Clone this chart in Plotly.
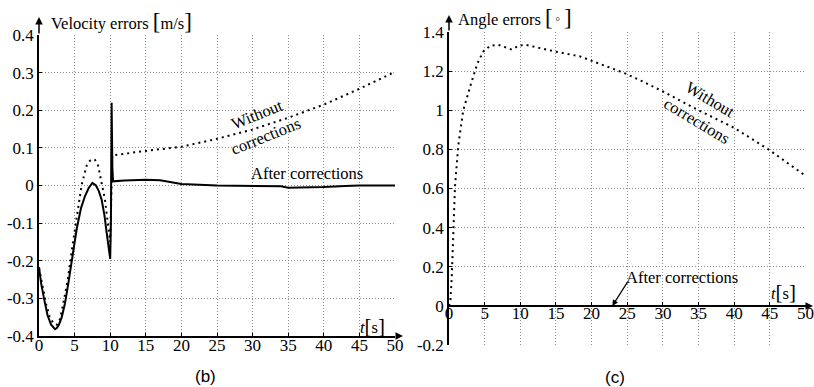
import plotly.graph_objects as go

# ---------------- data: panel (b) velocity errors ----------------
t_vel_after = [0, 0.3, 0.7, 1.2, 1.7, 2.0, 2.25, 2.5, 2.8, 3.2, 3.65, 4.1, 4.6, 5.3, 5.9, 6.46,
               7.0, 7.5, 8.0, 8.4, 8.8, 9.2, 9.5, 9.75, 10.0, 10.1, 10.2, 10.3, 10.4, 12, 15,
               17, 20, 25, 30, 34, 35, 38, 40, 43, 45, 50]
v_after = [-0.217, -0.26, -0.30, -0.345, -0.370, -0.378, -0.382, -0.379, -0.37, -0.35, -0.313,
           -0.262, -0.20, -0.115, -0.06, -0.028, -0.006, 0.007, 0.0, -0.015, -0.038, -0.08,
           -0.125, -0.16, -0.195, -0.10, 0.22, 0.05, 0.011, 0.013, 0.015, 0.014, 0.004, 0.0,
           -0.001, -0.002, -0.006, -0.006, -0.004, -0.001, 0.0, 0.0]

t_vel_without = [0, 0.5, 1.0, 1.5, 2.0, 2.5, 2.95, 3.55, 4.1, 4.6, 5.05, 5.5, 6.0, 6.7, 7.16,
                 7.5, 7.86, 8.3, 8.8, 9.27, 9.6, 10.0, 10.3, 12, 15, 20, 25, 30, 35, 40, 45, 50]
v_without = [-0.22, -0.27, -0.315, -0.35, -0.365, -0.37, -0.355, -0.30, -0.243, -0.173, -0.12,
             -0.056, 0.003, 0.053, 0.066, 0.07, 0.068, 0.053, 0.007, -0.038, -0.09, -0.15, 0.08,
             0.085, 0.092, 0.103, 0.124, 0.149, 0.18, 0.215, 0.257, 0.302]

# ---------------- data: panel (c) angle errors ----------------
t_ang_without = [0, 0.2, 0.38, 0.6, 0.84, 1.3, 2.0, 3.2, 4.0, 4.8, 5.8, 6.9, 8.0, 8.8, 9.8, 10.7,
                 12.5, 14.9, 18.4, 21.2, 24.6, 27, 30, 35, 40, 44.8, 50]
a_without = [0.0, 0.03, 0.14, 0.41, 0.61, 0.82, 1.0, 1.15, 1.24, 1.30, 1.33, 1.335, 1.32, 1.31,
             1.33, 1.335, 1.32, 1.30, 1.275, 1.235, 1.19, 1.15, 1.096, 1.0, 0.91, 0.80, 0.665]
t_ang_after = [0, 50]
a_after = [0.0, 0.0]

x_ticks = [0, 5, 10, 15, 20, 25, 30, 35, 40, 45, 50]
x_tick_text = ["0", "5", "10", "15", "20", "25", "30", "35", "40", "45", "50"]
y_ticks_b = [-0.4, -0.3, -0.2, -0.1, 0, 0.1, 0.2, 0.3, 0.4]
y_tick_text_b = ["-0.4", "-0.3", "-0.2", "-0.1", "0", "0.1", "0.2", "0.3", "0.4"]
y_ticks_c = [-0.2, 0, 0.2, 0.4, 0.6, 0.8, 1, 1.2, 1.4]
y_tick_text_c = ["-0.2", "0", "0.2", "0.4", "0.6", "0.8", "1", "1.2", "1.4"]

W, H = 814, 387
def px(x): return x / W
def py(y): return 1 - y / H

SERIF = "Liberation Serif, Times New Roman, serif"
GRID = "#8c8c8c"

fig = go.Figure()
fig.add_trace(go.Scatter(x=t_vel_without, y=v_without, mode="lines",
                         line=dict(color="black", width=2, dash="2px,4px"),
                         xaxis="x", yaxis="y", showlegend=False))
fig.add_trace(go.Scatter(x=t_vel_after, y=v_after, mode="lines",
                         line=dict(color="black", width=2),
                         xaxis="x", yaxis="y", showlegend=False))
fig.add_trace(go.Scatter(x=t_ang_without, y=a_without, mode="lines",
                         line=dict(color="black", width=2, dash="2px,4px"),
                         xaxis="x2", yaxis="y2", showlegend=False))
fig.add_trace(go.Scatter(x=t_ang_after, y=a_after, mode="lines",
                         line=dict(color="black", width=2),
                         xaxis="x2", yaxis="y2", showlegend=False))

dom_b_x = [px(39), px(395)]
dom_b_y = [py(336), py(35)]
dom_c_x = [px(449), px(805.5)]
dom_c_y = [py(345), py(32)]
zero_c = dom_c_y[0] + (0.2 / 1.6) * (dom_c_y[1] - dom_c_y[0])

axis_common = dict(showgrid=True, gridcolor=GRID, griddash="1px,2px", gridwidth=1,
                   zeroline=False, showline=True, linecolor="black", linewidth=1.5,
                   ticks="inside", ticklen=3, tickcolor="black", automargin=False,
                   tickfont=dict(family=SERIF, size=17, color="black"))

fig.update_layout(
    template="none",
    font=dict(family=SERIF, color="black"),
    width=W, height=H, margin=dict(l=0, r=0, t=0, b=0, pad=0, autoexpand=False),
    paper_bgcolor="white", plot_bgcolor="white", showlegend=False,
    xaxis=dict(domain=dom_b_x, range=[0, 50], tickvals=x_ticks, ticktext=x_tick_text,
               anchor="y", ticklabelstandoff=-7, **axis_common),
    yaxis=dict(domain=dom_b_y, range=[-0.4, 0.4], tickvals=y_ticks_b, ticktext=y_tick_text_b,
               anchor="x", **axis_common),
    xaxis2=dict(domain=dom_c_x, range=[0, 50], tickvals=x_ticks, ticktext=x_tick_text,
                anchor="free", position=zero_c, ticklabelstandoff=-8, **axis_common),
    yaxis2=dict(domain=dom_c_y, range=[-0.2, 1.4], tickvals=y_ticks_c, ticktext=y_tick_text_c,
                anchor="x2", **axis_common),
)

tf = dict(family=SERIF, size=16.5, color="black")
ann = []
# axis arrows
arrow = dict(showarrow=True, arrowhead=2, arrowsize=1, arrowwidth=1.5, arrowcolor="black", text="")
ann.append(dict(x=0, xref="x", y=py(17), yref="paper", ax=0, ay=18, **arrow))
ann.append(dict(x=0, xref="x2", y=py(15), yref="paper", ax=0, ay=17, **arrow))
ann.append(dict(x=px(403), xref="paper", y=-0.4, yref="y", ax=-8, ay=0, **arrow))
ann.append(dict(x=px(813), xref="paper", y=0, yref="y2", ax=-8, ay=0, **arrow))

def label(x, y, text, font=tf, angle=0, xanchor="center"):
    return dict(x=px(x), y=py(y), xref="paper", yref="paper", xanchor=xanchor, yanchor="middle",
                showarrow=False, font=font, text=text, textangle=angle)

big = "<span style='font-size:23px'>"
mid = "<span style='font-size:21px'>"
ann.append(label(49, 22, "Velocity errors " + big + "[</span>m/s" + big + "]</span>", xanchor="left"))
ann.append(label(456, 17, "Angle errors " + big + "[</span><span style='font-size:11px'> °</span> "
                 + big + "]</span>", xanchor="left"))
ann.append(label(387, 326, "<i>t</i>" + mid + "[</span>s" + mid + "]</span>", xanchor="right"))
ann.append(label(798, 292, "<i>t</i>" + mid + "[</span>s" + mid + "]</span>", xanchor="right"))
# series labels
ann.append(label(257, 114, "Without", angle=-22))
ann.append(label(265, 136, "corrections", angle=-22))
ann.append(label(307, 173, "After corrections"))
ann.append(label(710, 100, "Without", angle=31))
ann.append(label(696, 121, "corrections", angle=31))
ann.append(label(682, 277, "After corrections"))
ann.append(dict(x=22.9, xref="x2", y=0, yref="y2", ax=16, ay=-25, showarrow=True, arrowhead=2,
                arrowsize=1, arrowwidth=1.2, arrowcolor="black", text=""))
# panel labels
sf = dict(family="Liberation Sans", size=17, color="black")
ann.append(label(205, 376, "(b)", font=sf))
ann.append(label(615, 377, "(c)", font=sf))

fig.update_layout(annotations=ann)
fig.write_html("out.html", config={"displayModeBar": False},
               post_script="document.body.style.margin='0';document.body.style.padding='0';")
